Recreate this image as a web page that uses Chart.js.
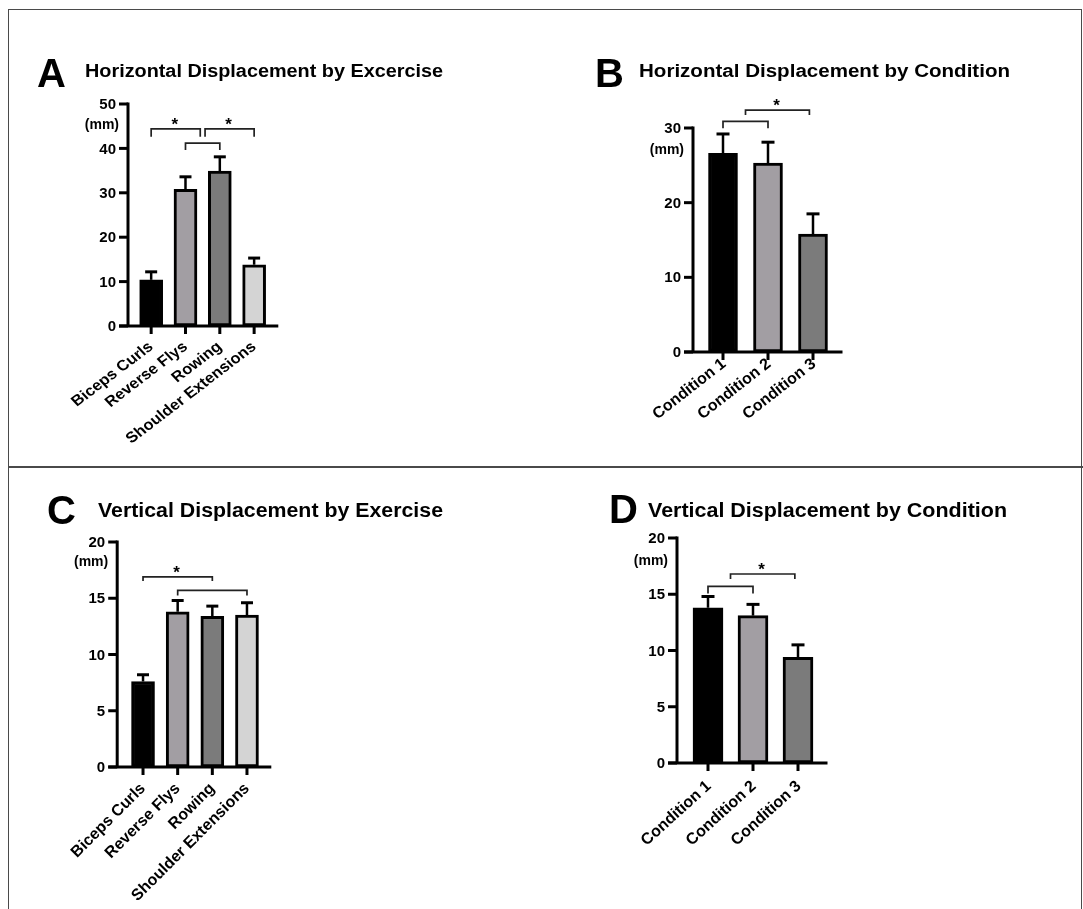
<!DOCTYPE html>
<html>
<head>
<meta charset="utf-8">
<title>Displacement by Exercise and Condition</title>
<script src="https://cdn.jsdelivr.net/npm/chart.js@4.4.1/dist/chart.umd.min.js"></script>
<style>
  html, body { margin: 0; padding: 0; background: #ffffff; }
  body { width: 1083px; height: 909px; position: relative; overflow: hidden; font-family: "Liberation Sans", Arial, sans-serif; }
  canvas.panel { position: absolute; left: 0; top: 0; pointer-events: none; }
  .rule { position: absolute; background: #4a4a4a; }
  .label { position: absolute; white-space: nowrap; font-weight: bold; color: #000; line-height: 1; transform-origin: 0 0; }
</style>
</head>
<body>
<div class="rule" style="left:8px; top:9px; width:1074px; height:1px;"></div>
<div class="rule" style="left:8px; top:9px; width:1px; height:900px;"></div>
<div class="rule" style="left:1081px; top:9px; width:1px; height:900px;"></div>
<div class="rule" style="left:8px; top:466px; width:1075px; height:2px;"></div>

<canvas class="panel" id="panelA" width="1083" height="909"></canvas>
<canvas class="panel" id="panelB" width="1083" height="909"></canvas>
<canvas class="panel" id="panelC" width="1083" height="909"></canvas>
<canvas class="panel" id="panelD" width="1083" height="909"></canvas>

<script>
// ---- data ----
const exerciseLabels = ['Biceps Curls', 'Reverse Flys', 'Rowing', 'Shoulder Extensions'];
const conditionLabels = ['Condition 1', 'Condition 2', 'Condition 3'];

const horizExerciseMean = [10.4, 30.8, 34.9, 13.8];
const horizExerciseSD   = [1.8, 2.8, 3.2, 1.5];
const horizConditionMean = [26.6, 25.3, 15.8];
const horizConditionSD   = [2.6, 2.8, 2.7];
const vertExerciseMean = [7.6, 13.8, 13.4, 13.5];
const vertExerciseSD   = [0.6, 1.0, 0.9, 1.1];
const vertConditionMean = [13.8, 13.1, 9.4];
const vertConditionSD   = [1.0, 1.0, 1.1];

const horizExerciseTicks = [0, 10, 20, 30, 40, 50];
const horizConditionTicks = [0, 10, 20, 30];
const vertTicks = [0, 5, 10, 15, 20];

const exerciseColors = ['#000000', '#a29ea3', '#7b7b7b', '#d4d4d4'];
const conditionColors = ['#000000', '#a29ea3', '#7b7b7b'];

// significance brackets: category positions (fractional = between groups), height in mm
const sigHorizExercise = [
  { from: 0, to: 1.43, y: 44.4, leg: 8, star: true },
  { from: 1, to: 2, y: 41.2, leg: 7 },
  { from: 1.57, to: 3, y: 44.4, leg: 8, star: true }
];
const sigHorizCondition = [
  { from: 0, to: 1, y: 30.9, leg: 7 },
  { from: 0.5, to: 1.92, y: 32.4, leg: 5, star: true }
];
const sigVertExercise = [
  { from: 0, to: 2, y: 16.9, leg: 4, star: true },
  { from: 1, to: 3, y: 15.7, leg: 5 }
];
const sigVertCondition = [
  { from: 0, to: 1, y: 15.7, leg: 7 },
  { from: 0.5, to: 1.93, y: 16.8, leg: 5, star: true }
];

// ---- titles ----
function placeText(text, left, baseline, size, width) {
  const el = document.createElement('div');
  el.className = 'label';
  el.textContent = text;
  el.style.fontSize = size + 'px';
  el.style.left = left + 'px';
  el.style.top = (baseline - 0.8465 * size) + 'px';
  document.body.appendChild(el);
  if (width) {
    const w = el.getBoundingClientRect().width;
    el.style.transform = 'scaleX(' + (width / w) + ')';
  }
  return el;
}
placeText('A', 37, 87, 40);
placeText('Horizontal Displacement by Excercise', 85, 77, 18, 358);
placeText('B', 595, 87, 40);
placeText('Horizontal Displacement by Condition', 639, 77, 18, 371);
placeText('C', 47, 524, 40);
placeText('Vertical Displacement by Exercise', 98, 517, 20, 345);
placeText('D', 609, 523, 40);
placeText('Vertical Displacement by Condition', 648, 517, 20, 359);

// ---- axes, error bars and brackets drawn on top of the bars ----
const gpAxes = {
  id: 'gpAxes',
  afterDatasetsDraw(chart, args, o) {
    const ctx = chart.ctx;
    const xs = chart.scales.x, ys = chart.scales.y;
    const area = chart.chartArea;
    const means = chart.data.datasets[0].data;
    const p0 = xs.getPixelForValue(0);
    const step = xs.getPixelForValue(1) - p0;
    const catPx = v => p0 + v * step;
    const yZero = ys.getPixelForValue(0);
    const axX = area.left - o.axisGap;

    ctx.save();
    ctx.strokeStyle = '#000';
    ctx.fillStyle = '#000';
    ctx.lineCap = 'butt';

    // error bars (mean + SD)
    means.forEach((m, i) => {
      const px = catPx(i);
      const yTop = ys.getPixelForValue(m + o.sd[i]);
      const yBar = ys.getPixelForValue(m);
      ctx.lineWidth = 2.5;
      ctx.beginPath();
      ctx.moveTo(px, yBar);
      ctx.lineTo(px, yTop);
      ctx.stroke();
      ctx.lineWidth = 3;
      ctx.beginPath();
      ctx.moveTo(px - o.cap / 2, yTop);
      ctx.lineTo(px + o.cap / 2, yTop);
      ctx.stroke();
    });

    // y axis
    const yMaxPx = ys.getPixelForValue(ys.max);
    ctx.lineWidth = 3;
    ctx.beginPath();
    ctx.moveTo(axX, yMaxPx - 1.5);
    ctx.lineTo(axX, yZero);
    ctx.stroke();
    ctx.font = 'bold 15px "Liberation Sans", Arial, sans-serif';
    ctx.textAlign = 'right';
    ctx.textBaseline = 'middle';
    o.ticks.forEach(t => {
      const py = ys.getPixelForValue(t);
      ctx.beginPath();
      ctx.moveTo(axX - 9, py);
      ctx.lineTo(axX, py);
      ctx.stroke();
      ctx.fillText(String(t), axX - 12, py + 1);
    });
    ctx.font = 'bold 14px "Liberation Sans", Arial, sans-serif';
    ctx.fillText('(mm)', axX - 9, yMaxPx + o.unitDy);

    // x axis with slanted category labels
    ctx.beginPath();
    ctx.moveTo(axX - 9, yZero);
    ctx.lineTo(area.right + 7, yZero);
    ctx.stroke();
    ctx.font = 'bold ' + o.labelSize + 'px "Liberation Sans", Arial, sans-serif';
    chart.data.labels.forEach((lab, i) => {
      const px = catPx(i);
      ctx.beginPath();
      ctx.moveTo(px, yZero);
      ctx.lineTo(px, yZero + 8);
      ctx.stroke();
      ctx.save();
      ctx.translate(px + o.labelDx, yZero + o.labelDy);
      ctx.scale(o.labelStretch, 1);
      ctx.rotate(-o.labelAngle * Math.PI / 180);
      ctx.textAlign = 'right';
      ctx.textBaseline = 'middle';
      ctx.fillText(lab, 0, 0);
      ctx.restore();
    });

    // significance brackets
    ctx.strokeStyle = '#222';
    ctx.lineWidth = 1.7;
    ctx.font = 'bold 17px "Liberation Sans", Arial, sans-serif';
    ctx.textAlign = 'center';
    ctx.textBaseline = 'alphabetic';
    o.brackets.forEach(b => {
      const x1 = catPx(b.from), x2 = catPx(b.to);
      const py = ys.getPixelForValue(b.y);
      ctx.beginPath();
      ctx.moveTo(x1, py + b.leg);
      ctx.lineTo(x1, py);
      ctx.lineTo(x2, py);
      ctx.lineTo(x2, py + b.leg);
      ctx.stroke();
      if (b.star) ctx.fillText('*', (x1 + x2) / 2 - 1, py + 1);
    });
    ctx.restore();
  }
};

function makePanel(id, labels, means, sds, colors, ticks, area, look, brackets) {
  const canvas = document.getElementById(id);
  return new Chart(canvas, {
    type: 'bar',
    data: {
      labels: labels,
      datasets: [{
        data: means,
        backgroundColor: colors,
        borderColor: '#000000',
        borderWidth: 3,
        borderSkipped: false,
        barThickness: look.barWidth,
        clip: false
      }]
    },
    options: {
      responsive: false,
      animation: false,
      events: [],
      layout: { padding: { left: area.L, right: 1083 - area.R, top: area.T, bottom: 909 - area.B } },
      scales: {
        x: { display: false, offset: true },
        y: { display: false, min: 0, max: ticks[ticks.length - 1] }
      },
      plugins: {
        legend: { display: false },
        tooltip: { enabled: false },
        gpAxes: Object.assign({ sd: sds, ticks: ticks, brackets: brackets }, look)
      }
    },
    plugins: [gpAxes]
  });
}

makePanel('panelA', exerciseLabels, horizExerciseMean, horizExerciseSD, exerciseColors, horizExerciseTicks,
  { L: 134, R: 271.3, T: 104, B: 326 },
  { barWidth: 23, axisGap: 6, cap: 12, unitDy: 21, labelAngle: 40, labelStretch: 1.1, labelSize: 15, labelDx: 0, labelDy: 19 },
  sigHorizExercise);
makePanel('panelB', conditionLabels, horizConditionMean, horizConditionSD, conditionColors, horizConditionTicks,
  { L: 700.5, R: 835.5, T: 128, B: 352 },
  { barWidth: 29, axisGap: 7.5, cap: 13, unitDy: 22, labelAngle: 38, labelStretch: 1, labelSize: 16, labelDx: 1, labelDy: 10 },
  sigHorizCondition);
makePanel('panelC', exerciseLabels, vertExerciseMean, vertExerciseSD, exerciseColors, vertTicks,
  { L: 125.7, R: 264.3, T: 542, B: 767 },
  { barWidth: 23, axisGap: 8.5, cap: 12, unitDy: 20, labelAngle: 45, labelStretch: 1, labelSize: 16, labelDx: 0, labelDy: 19 },
  sigVertExercise);
makePanel('panelD', conditionLabels, vertConditionMean, vertConditionSD, conditionColors, vertTicks,
  { L: 685.5, R: 820.5, T: 538, B: 763 },
  { barWidth: 30, axisGap: 8.5, cap: 13, unitDy: 23, labelAngle: 42, labelStretch: 1, labelSize: 16, labelDx: 1, labelDy: 21 },
  sigVertCondition);
</script>
</body>
</html>
